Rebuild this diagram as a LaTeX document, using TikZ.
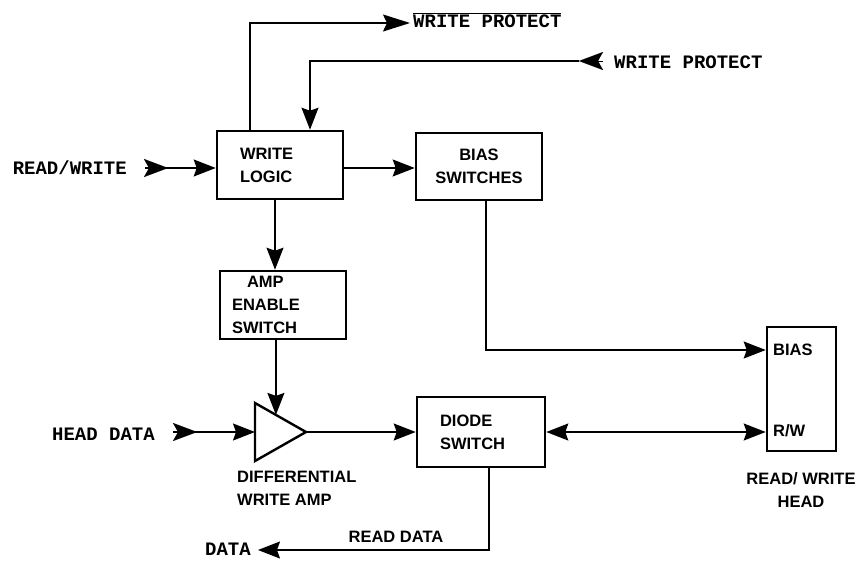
\documentclass[tikz,border=0pt]{standalone}
\usepackage{fontspec}
\usepackage{tikz}
\usetikzlibrary{arrows.meta,calc}
\newfontfamily\boxfont{Liberation Sans}
\newfontfamily\sigfont{Liberation Mono}

\tikzset{
  block/.style={draw, line width=2.6pt, inner sep=0pt,
    font=\boxfont\bfseries\fontsize{16.5}{23}\selectfont},
  signal/.style={font=\sigfont\bfseries\fontsize{19}{23}\selectfont, inner sep=0pt},
  caption/.style={font=\boxfont\bfseries\fontsize{16.5}{23}\selectfont, inner sep=0pt},
  wire/.style={line width=1.4pt},
  head/.tip={Stealth[length=22pt,width=17pt,inset=3pt]},
  flow/.style={wire, -head},
  plug/.style={line width=0.1pt, -{Stealth[length=24pt,width=18pt,inset=5pt]}}
}

\begin{document}
\begin{tikzpicture}[x=1pt,y=-1pt]
\useasboundingbox (0,0) rectangle (860,560);

% blocks
\node[block, minimum width=126pt, minimum height=68pt, text width=80pt, align=left]
  (wl) at (280,165) {WRITE\\LOGIC};
\node[block, minimum width=126pt, minimum height=67pt, align=center]
  (bs) at (479,166.5) {BIAS\\SWITCHES};
\node[block, minimum width=126pt, minimum height=68pt, text width=102pt, align=left]
  (ae) at (283,305) {\hspace*{15pt}AMP\\ENABLE\\SWITCH};
\node[block, minimum width=128pt, minimum height=70pt, text width=82pt, align=left]
  (ds) at (481,432) {DIODE\\SWITCH};
\node[block, minimum width=69pt, minimum height=124pt] (hd) at (801.5,389) {};
\node[caption, anchor=west] (hbias) at (773,350) {BIAS};
\node[caption, anchor=west] (hrw) at (773,431) {R/W};

% write amp
\coordinate (ampT) at (255,403);
\coordinate (ampB) at (255,461);
\coordinate (ampR) at (306,432);
\draw[line width=2.4pt, line join=miter] (ampT) -- (ampR) -- (ampB) -- cycle;
\coordinate (ampL) at ($(ampT)!0.5!(ampB)$);
\coordinate (ampin) at ($(ampR)!0.59!(ampT)$);

% labels
\node[signal, anchor=east] (rwlbl) at (127,168) {READ/WRITE};
\node[signal, anchor=east] (hdlbl) at (155,434) {HEAD DATA};
\node[signal, anchor=west] (wplbl) at (614,62) {WRITE PROTECT};
\node[signal, anchor=west] (nwplbl) at (413,20) {$\overline{\hbox{\sigfont\bfseries WRITE PROTECT}}$};
\node[signal, anchor=east] (dlbl) at (251,549) {DATA};
\node[caption] (rdlbl) at (396,537) {READ\ DATA};
\node[caption, anchor=north west, align=left] (amplbl) at (237,471) {DIFFERENTIAL\\WRITE AMP};
\node[caption, align=center] (hdcap) at (801,490) {READ/ WRITE\\HEAD};

% input plugs
\coordinate (rwin) at (145,168);
\coordinate (hdin) at (173,432);
\coordinate (wpin) at (603,61);
\coordinate (wpsym) at (579,61);
\draw[plug] (rwin) -- ++(23,0);
\draw[plug] (hdin) -- ++(24,0);
\draw[plug] (wpin) -- (wpsym);

% connectors
\coordinate (wpout) at (410,23);
\coordinate (dout) at (258,550);
\draw[flow] (rwin) -- (rwin -| wl.west);
\draw[flow] (wl.east |- rwin) -- (bs.west |- rwin);
\draw[wire, -{Stealth[length=27pt,width=17pt,inset=4pt]}] ([xshift=-30pt]wl.north) |- (wpout);
\draw[flow] (wpsym) -| ([xshift=30pt]wl.north);
\draw[flow] ([xshift=-5pt]wl.south) -- ([xshift=-5pt]wl.south |- ae.north);
\draw[flow] (ae.south -| ampin) -- (ampin);
\draw[flow] (hdin) -- (ampL);
\draw[flow] (ampR) -- (ds.west);
\draw[flow] ([xshift=7pt]bs.south) |- (hd.west |- hbias);
\draw[wire, head-head] (ds.east) -- (ds.east -| hd.west);
\draw[flow] ([xshift=8pt]ds.south) |- (dout);
\end{tikzpicture}
\end{document}
